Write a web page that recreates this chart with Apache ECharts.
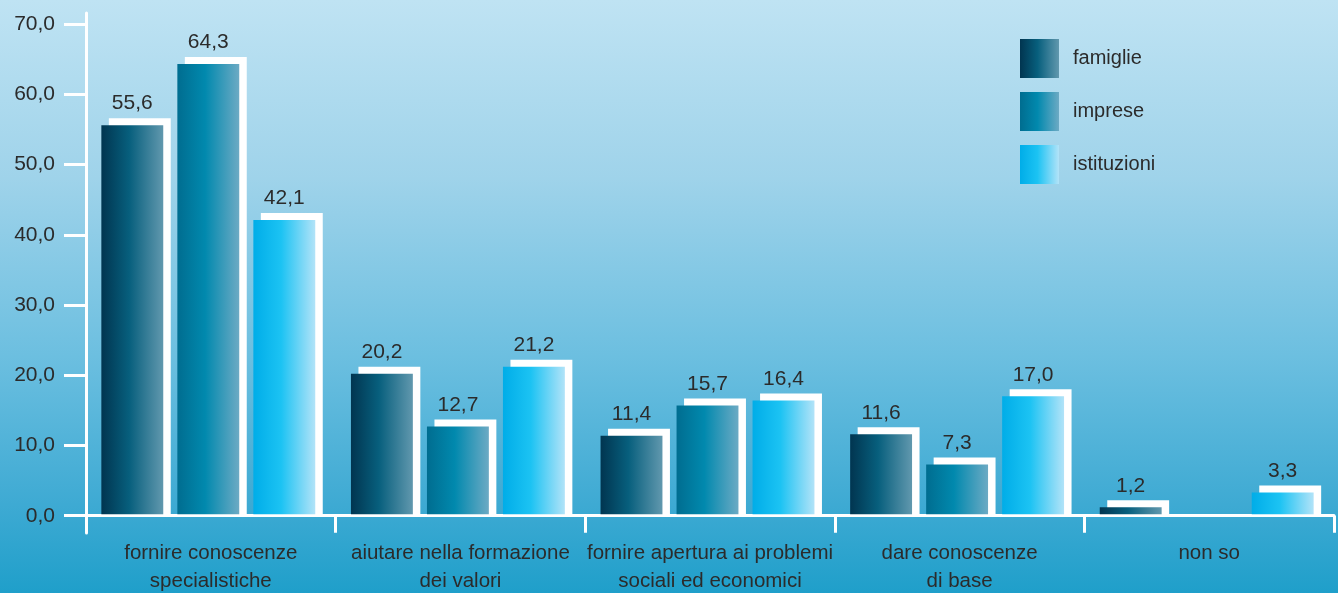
<!DOCTYPE html>
<html>
<head>
<meta charset="UTF-8">
<title>Compiti dell'università</title>
<script src="https://cdn.jsdelivr.net/npm/echarts@6.0.0/dist/echarts.min.js"></script>
<style>
  html, body { margin: 0; padding: 0; }
  #container {
    width: 1338px; height: 593px;
    background: linear-gradient(to bottom, #bfe3f3 0%, #9fd3ea 30%, #6cbfe0 60%, #3eaad3 85%, #1f9fca 100%);
  }
</style>
</head>
<body>
<div id="container"></div>
<script>
// dati
var categories = ['fornire conoscenze\nspecialistiche', 'aiutare nella formazione\ndei valori',
  'fornire apertura ai problemi\nsociali ed economici', 'dare conoscenze\ndi base', 'non so'];
var seriesNames = ['famiglie', 'imprese', 'istituzioni'];
var famiglie = [55.6, 20.2, 11.4, 11.6, 1.2];
var imprese = [64.3, 12.7, 15.7, 7.3, null];
var istituzioni = [42.1, 21.2, 16.4, 17.0, 3.3];
var yTicks = [0, 10, 20, 30, 40, 50, 60, 70];

var FONT = '"Liberation Sans", Arial, sans-serif';
var TEXT = '#2b2b2b';

function grad(stops) {
  return new echarts.graphic.LinearGradient(0, 0, 1, 0, stops);
}
var fills = [
  grad([{offset: 0, color: '#013550'}, {offset: 0.45, color: '#075f7d'}, {offset: 1, color: '#6198ae'}]),
  grad([{offset: 0, color: '#006d90'}, {offset: 0.45, color: '#0189ae'}, {offset: 1, color: '#6caac4'}]),
  grad([{offset: 0, color: '#00ade8'}, {offset: 0.45, color: '#1cc3f3'}, {offset: 1, color: '#b2e3f8'}])
];

function fmt(v) { return v.toFixed(1).replace('.', ','); }

// barre con "ombra" bianca spostata in alto a destra
function makeSeries(k, values) {
  var data = [];
  values.forEach(function (v, i) { if (v != null) data.push([i, v]); });
  return {
    name: seriesNames[k],
    type: 'custom',
    itemStyle: { color: fills[k] },
    data: data,
    renderItem: function (params, api) {
      var idx = api.value(0), val = api.value(1);
      var base = api.coord([idx, 0]);
      var top = api.coord([idx, val]);
      var band = api.size([1, 0])[0];
      var w = band * 0.248;
      var cx = base[0] + band * ((k - 1) * 0.3045 - 0.01);
      var x = cx - w / 2;
      var h = base[1] - top[1] - 1.5;
      return {
        type: 'group',
        children: [
          { type: 'rect', shape: { x: x + 7.5, y: top[1] - 7, width: w, height: h + 7 }, style: { fill: '#ffffff' } },
          { type: 'rect', shape: { x: x, y: top[1], width: w, height: h }, style: { fill: fills[k] } },
          { type: 'text', x: cx, y: top[1] - 11,
            style: { text: fmt(val), align: 'center', verticalAlign: 'bottom', fill: TEXT, font: '21px ' + FONT } }
        ]
      };
    }
  };
}

var myChart = echarts.init(document.getElementById('container'));
var option = {
  backgroundColor: 'transparent',
  animation: false,
  grid: { left: 86, right: 4, top: 13, bottom: 60, outerBoundsMode: 'none', containLabel: false },
  legend: {
    orient: 'vertical',
    left: 1020, top: 39, padding: 0,
    itemWidth: 39, itemHeight: 39, itemGap: 14,
    icon: 'rect',
    data: seriesNames,
    textStyle: { color: TEXT, fontSize: 20, fontFamily: FONT, padding: [0, 0, 0, 9] }
  },
  xAxis: {
    type: 'category',
    data: categories,
    axisLine: { onZero: true, lineStyle: { color: '#ffffff', width: 3 } },
    axisTick: { show: true, length: 17, lineStyle: { color: '#ffffff', width: 3 } },
    axisLabel: { color: TEXT, fontSize: 20.5, fontFamily: FONT, lineHeight: 28, margin: 6, interval: 0 },
    splitLine: { show: false }
  },
  yAxis: {
    type: 'value',
    min: -2.46, max: 71.57,
    axisLine: { show: true, lineStyle: { color: '#ffffff', width: 3 } },
    axisTick: { show: true, length: 22, customValues: yTicks, lineStyle: { color: '#ffffff', width: 3 } },
    axisLabel: { customValues: yTicks, color: TEXT, fontSize: 21, fontFamily: FONT, margin: 31, formatter: fmt },
    splitLine: { show: false }
  },
  series: [makeSeries(0, famiglie), makeSeries(1, imprese), makeSeries(2, istituzioni)]
};
myChart.setOption(option);
</script>
</body>
</html>
